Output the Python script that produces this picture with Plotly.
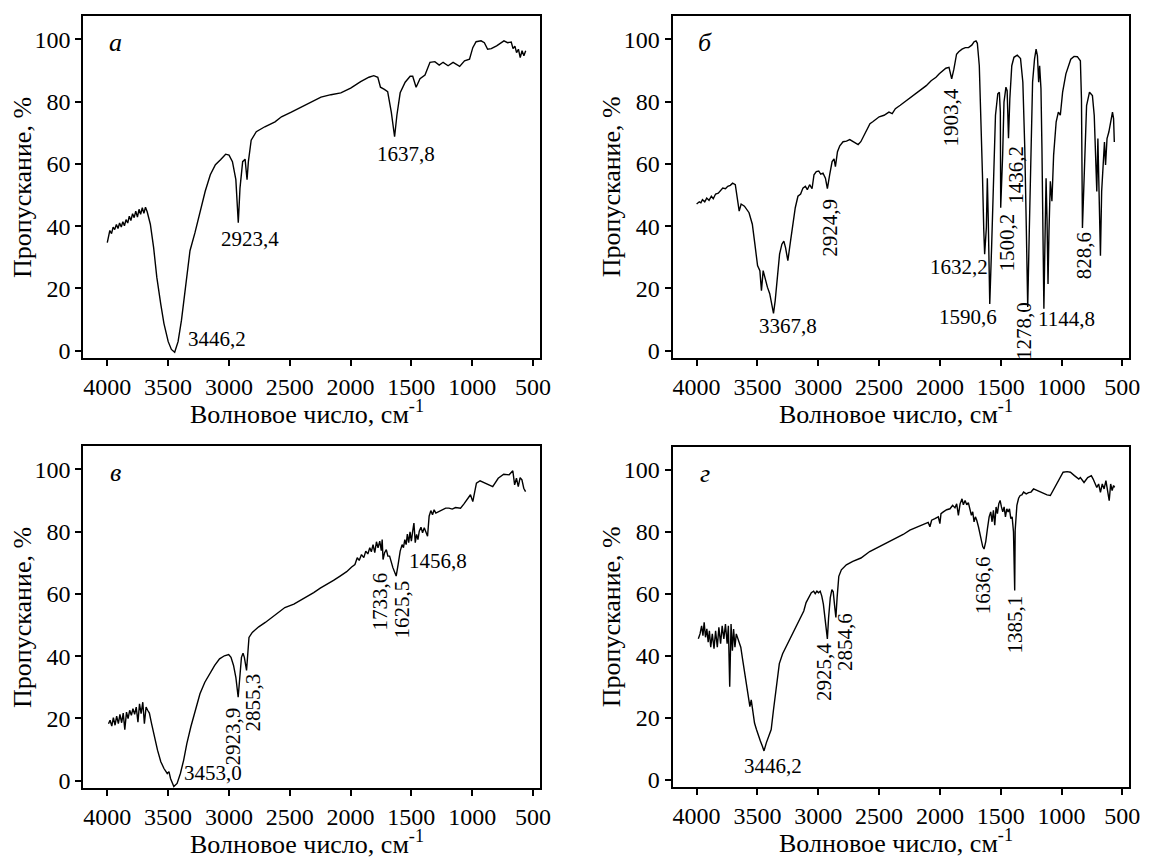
import plotly.graph_objects as go

# ---------------- data (wavenumber, transmittance %) ----------------
wn_a = [4000, 3992, 3979, 3965, 3952, 3939, 3925, 3912, 3899, 3885, 3872, 3859, 3846, 3832, 3819,
        3806, 3792, 3779, 3766, 3752, 3739, 3726, 3712, 3699, 3686, 3672, 3646, 3619, 3593, 3561,
        3534, 3499, 3473, 3446, 3418, 3390, 3354, 3320, 3279, 3237, 3195, 3153, 3111, 3069, 3027,
        2999, 2971, 2943, 2923, 2909, 2887, 2867, 2851, 2840, 2817, 2775, 2705, 2621, 2568, 2487,
        2405, 2324, 2243, 2161, 2080, 1999, 1917, 1849, 1809, 1776, 1754, 1722, 1695, 1665, 1638,
        1619, 1592, 1551, 1510, 1489, 1461, 1429, 1388, 1347, 1307, 1271, 1239, 1198, 1157, 1103,
        1063, 1022, 995, 968, 927, 900, 873, 843, 799, 739, 709, 679, 664, 649, 635, 620, 605, 590,
        575, 560]
tr_a = [34.7, 36.7, 38.6, 37.6, 39.7, 38.9, 40.5, 39.2, 41.0, 39.7, 41.4, 40.1, 42.1, 41.0, 43.2,
        41.8, 44.0, 42.7, 44.8, 42.9, 45.4, 43.8, 45.9, 44.1, 46.1, 44.6, 40.6, 33.1, 23.6, 15.1,
        8.7, 2.9, 0.4, -0.5, 2.9, 9.8, 20.4, 32.1, 37.9, 44.8, 51.2, 56.5, 59.7, 61.3, 63.1,
        62.8, 60.7, 54.9, 41.1, 52.2, 60.7, 61.5, 54.9, 60.7, 67.6, 70.3, 71.9, 73.5, 75.1, 76.6,
        78.2, 80.0, 81.4, 82.2, 82.8, 84.3, 86.4, 87.8, 88.3, 87.8, 84.6, 83.9, 83.2, 76.6, 68.7,
        75.6, 82.8, 86.2, 88.1, 88.1, 84.6, 87.3, 88.5, 92.6, 92.8, 91.7, 92.6, 91.5, 92.6, 91.3,
        93.1, 93.6, 97.3, 99.2, 99.5, 98.9, 96.8, 97.0, 97.9, 99.5, 98.9, 99.1, 97.0, 97.8, 95.7,
        96.8, 94.1, 96.3, 94.7, 96.3]

wn_b = [4000, 3978, 3965, 3952, 3933, 3917, 3898, 3879, 3863, 3844, 3822, 3803, 3785, 3763, 3744,
        3723, 3704, 3682, 3669, 3650, 3634, 3607, 3569, 3542, 3521, 3499, 3480, 3467, 3453, 3440,
        3418, 3399, 3381, 3368, 3354, 3338, 3318, 3299, 3283, 3269, 3250, 3228, 3208, 3189, 3167,
        3145, 3126, 3106, 3090, 3071, 3051, 3035, 3016, 2996, 2980, 2961, 2941, 2925, 2906, 2886,
        2870, 2859, 2842, 2823, 2796, 2768, 2741, 2713, 2672, 2650, 2630, 2603, 2575, 2552, 2499,
        2459, 2419, 2392, 2366, 2326, 2285, 2245, 2219, 2192, 2152, 2112, 2072, 2032, 2005, 1978,
        1951, 1925, 1903, 1885, 1863, 1845, 1818, 1791, 1765, 1738, 1719, 1703, 1692, 1676, 1663,
        1650, 1639, 1632, 1618, 1610, 1602, 1590, 1575, 1559, 1543, 1524, 1511, 1503, 1500, 1484,
        1473, 1457, 1447, 1436, 1425, 1409, 1391, 1364, 1337, 1318, 1302, 1289, 1278, 1265, 1251,
        1238, 1222, 1209, 1198, 1188, 1180, 1169, 1161, 1153, 1145, 1137, 1127, 1119, 1111, 1103,
        1092, 1079, 1065, 1044, 1026, 1010, 991, 964, 942, 924, 897, 870, 845, 836, 828, 809, 794,
        770, 746, 731, 719, 710, 701, 692, 680, 670, 659, 647, 638, 626, 611, 596, 581, 572, 566]
tr_b = [47.1, 47.8, 47.5, 48.5, 47.8, 49.0, 48.3, 49.6, 48.8, 50.3, 50.6, 51.4, 52.2, 52.0, 52.8,
        53.1, 53.8, 53.3, 50.1, 44.8, 47.1, 46.4, 44.3, 40.6, 34.2, 27.3, 25.7, 19.3, 25.7, 23.6,
        20.4, 18.3, 15.1, 12.0, 16.1, 23.6, 31.0, 34.2, 35.2, 33.1, 28.9, 35.2, 41.6, 45.9, 49.6,
        50.3, 52.2, 52.8, 51.7, 53.3, 52.0, 56.5, 57.5, 57.7, 56.7, 57.0, 55.4, 52.0, 56.5, 60.7,
        61.6, 59.1, 63.9, 65.8, 67.1, 67.3, 67.8, 67.1, 66.2, 67.1, 68.7, 70.8, 72.9, 73.5, 75.1,
        75.6, 76.6, 76.1, 77.7, 78.8, 80.0, 81.1, 82.0, 82.5, 83.9, 85.1, 86.7, 87.8, 88.9, 89.9,
        90.7, 91.0, 87.3, 90.4, 95.2, 96.0, 96.8, 97.3, 97.3, 98.1, 99.2, 99.5, 98.7, 91.5, 75.6,
        56.5, 38.4, 31.0, 39.5, 55.4, 41.6, 15.0, 33.1, 54.4, 75.6, 82.5, 83.0, 76.6, 45.9, 62.8,
        79.8, 84.6, 83.5, 68.2, 80.9, 91.5, 94.2, 94.9, 93.8, 86.2, 64.9, 38.4, 14.0, 38.4, 64.9,
        86.2, 93.6, 96.8, 94.7, 86.2, 91.5, 84.1, 65.0, 38.4, 13.5, 33.1, 55.4, 41.6, 21.4, 38.4,
        54.4, 48.0, 62.8, 73.5, 76.6, 75.6, 83.0, 88.9, 91.5, 93.6, 94.5, 94.4, 93.1, 80.9, 39.4,
        61.7, 78.7, 83.0, 81.9, 75.5, 59.6, 51.1, 68.1, 52.1, 30.5, 51.1, 60.6, 67.0, 59.6, 68.1,
        70.2, 73.4, 76.6, 74.5, 67.0]

wn_c = [3990, 3977, 3963, 3950, 3936, 3923, 3909, 3896, 3882, 3869, 3856, 3842, 3829, 3816, 3802,
        3789, 3775, 3762, 3748, 3735, 3722, 3708, 3695, 3681, 3668, 3654, 3636, 3614, 3587, 3560,
        3534, 3507, 3493, 3480, 3458, 3453, 3426, 3399, 3372, 3346, 3313, 3278, 3238, 3198, 3158,
        3117, 3077, 3037, 3002, 2983, 2962, 2943, 2924, 2910, 2897, 2884, 2873, 2855, 2846, 2835,
        2808, 2755, 2701, 2647, 2593, 2540, 2466, 2411, 2357, 2303, 2249, 2194, 2140, 2086, 2032,
        1991, 1964, 1945, 1929, 1910, 1891, 1875, 1858, 1842, 1829, 1815, 1801, 1787, 1774, 1760,
        1747, 1740, 1733, 1720, 1706, 1693, 1679, 1652, 1625, 1609, 1592, 1576, 1565, 1554, 1543,
        1533, 1522, 1511, 1500, 1489, 1479, 1468, 1457, 1446, 1435, 1421, 1408, 1394, 1381, 1367,
        1354, 1340, 1326, 1313, 1299, 1272, 1245, 1218, 1191, 1164, 1137, 1096, 1069, 1042, 1014,
        995, 965, 935, 875, 831, 786, 741, 696, 666, 651, 636, 621, 606, 591, 576, 561]
tr_c = [18.3, 19.4, 17.5, 20.2, 17.8, 20.7, 18.3, 21.3, 18.6, 21.7, 16.4, 22.0, 19.9, 22.6, 21.0,
        23.1, 21.3, 23.6, 18.8, 24.7, 21.5, 25.2, 18.3, 23.6, 22.6, 21.7, 18.3, 14.1, 9.8, 6.1,
        3.9, 2.3, 2.9, 0.7, -1.7, -1.9, -0.9, 2.3, 6.6, 11.9, 17.3, 22.6, 27.9, 31.6, 34.3,
        37.0, 39.1, 40.1, 40.5, 39.6, 37.0, 33.2, 26.8, 33.2, 39.6, 40.9, 39.6, 35.4, 39.6, 46.0,
        47.6, 49.4, 50.8, 52.4, 54.0, 55.6, 56.7, 57.9, 59.3, 60.4, 61.8, 63.0, 64.3, 65.7, 67.1,
        68.6, 69.4, 71.6, 70.7, 72.6, 71.6, 73.7, 72.8, 74.8, 73.5, 75.8, 73.2, 76.7, 74.8, 76.9,
        73.9, 77.4, 71.0, 73.2, 74.2, 72.1, 72.1, 68.4, 65.7, 69.4, 73.7, 75.8, 74.8, 77.4, 75.8,
        79.2, 76.4, 79.9, 76.9, 80.1, 82.7, 76.4, 79.1, 77.4, 80.1, 81.4, 79.6, 81.2, 79.9, 78.5,
        84.9, 86.7, 85.4, 87.0, 85.9, 86.5, 87.0, 87.5, 87.5, 87.2, 87.7, 87.5, 88.8, 90.2, 91.8,
        89.6, 95.5, 96.3, 95.2, 94.4, 97.1, 98.4, 98.2, 99.5, 95.0, 97.1, 94.4, 97.3, 96.6, 93.9,
        92.8]

wn_d = [3986, 3972, 3959, 3948, 3938, 3927, 3916, 3905, 3895, 3884, 3871, 3857, 3844, 3830, 3817,
        3803, 3790, 3776, 3763, 3749, 3739, 3728, 3717, 3706, 3696, 3685, 3674, 3664, 3653, 3637,
        3621, 3605, 3589, 3572, 3562, 3551, 3540, 3524, 3508, 3492, 3476, 3460, 3446, 3427, 3406,
        3387, 3368, 3347, 3320, 3293, 3266, 3226, 3186, 3146, 3119, 3100, 3079, 3057, 3038, 3025,
        3011, 2998, 2984, 2971, 2958, 2944, 2933, 2925, 2915, 2901, 2888, 2877, 2864, 2855, 2845,
        2831, 2810, 2769, 2716, 2649, 2577, 2522, 2467, 2412, 2357, 2302, 2247, 2192, 2137, 2096,
        2082, 2068, 2041, 2013, 2000, 1991, 1972, 1944, 1917, 1895, 1876, 1862, 1848, 1834, 1818,
        1807, 1793, 1779, 1766, 1752, 1741, 1730, 1719, 1708, 1697, 1683, 1664, 1648, 1637, 1623,
        1609, 1595, 1582, 1571, 1560, 1549, 1538, 1527, 1516, 1505, 1494, 1483, 1472, 1461, 1450,
        1439, 1428, 1417, 1406, 1395, 1385, 1381, 1367, 1353, 1340, 1326, 1312, 1290, 1271, 1251,
        1230, 1202, 1174, 1147, 1119, 1092, 1064, 1037, 1009, 987, 954, 927, 894, 858, 845, 815,
        785, 755, 740, 710, 695, 680, 665, 650, 635, 620, 608, 596, 584, 572, 563]
tr_d = [45.5, 47.1, 49.7, 46.5, 50.8, 46.0, 48.7, 44.4, 48.1, 42.8, 47.1, 42.3, 48.1, 42.8, 49.2,
        43.9, 49.7, 45.5, 50.3, 43.9, 49.7, 30.0, 50.3, 41.7, 48.7, 42.8, 47.1, 46.0, 44.9, 42.8,
        38.6, 34.3, 31.1, 26.8, 23.6, 25.8, 22.6, 18.3, 16.2, 14.1, 12.5, 10.9, 9.3, 11.9, 14.1,
        16.2, 22.6, 29.5, 37.5, 40.7, 42.8, 46.0, 49.4, 52.4, 54.5, 57.2, 58.6, 60.4, 60.9, 60.1,
        60.9, 60.4, 60.9, 59.3, 56.7, 52.4, 48.1, 45.5, 52.4, 58.8, 61.4, 60.7, 55.6, 52.4, 58.8,
        65.7, 67.8, 69.4, 70.5, 71.6, 73.7, 74.8, 75.8, 76.9, 78.2, 79.2, 80.6, 81.5, 82.4, 83.1,
        81.7, 83.8, 84.3, 84.9, 82.7, 85.9, 86.5, 87.2, 87.5, 88.6, 87.8, 89.1, 85.4, 89.1, 90.7,
        88.8, 90.2, 88.8, 89.5, 87.0, 85.4, 86.5, 83.3, 84.9, 83.8, 81.7, 78.0, 75.3, 74.5, 76.9,
        81.1, 84.9, 86.5, 83.3, 87.0, 82.2, 88.1, 85.9, 89.1, 90.2, 88.1, 86.5, 88.1, 84.9, 87.5,
        86.5, 87.5, 84.3, 84.9, 80.1, 61.1, 80.6, 88.6, 90.9, 91.8, 92.0, 92.9, 92.3, 92.7, 92.9,
        93.9, 93.4, 92.9, 92.3, 92.0, 91.8, 93.9, 95.5, 97.7, 99.3, 99.5, 99.3, 98.2, 97.1, 97.6,
        96.0, 97.6, 98.2, 97.1, 94.4, 95.5, 92.8, 95.5, 93.9, 96.6, 92.8, 90.1, 95.5, 93.4, 95.0,
        94.4]

panel_letters = ["а", "б", "в", "г"]
x_ticks = [4000, 3500, 3000, 2500, 2000, 1500, 1000, 500]
y_ticks = [0, 20, 40, 60, 80, 100]

# peak labels: (text, wavenumber, transmittance, vertical?)
labels_a = [("3446,2", 3097, 3.6, False), ("2923,4", 2824, 36.0, False), ("1637,8", 1544, 63.3, False)]
labels_b = [("3367,8", 3250, 8.0, False), ("2924,9", 2905, 39.4, True), ("1903,4", 1905, 75.0, True),
            ("1632,2", 1845, 26.8, False), ("1590,6", 1772, 10.8, False), ("1500,2", 1452, 34.6, True),
            ("1436,2", 1375, 56.5, True), ("1278,0", 1305, 6.5, True), ("1144,8", 955, 10.3, False),
            ("828,6", 815, 30.3, True)]
labels_c = [("3453,0", 3133, 2.5, False), ("2923,9", 2962, 14.0, True), ("2855,3", 2804, 25.0, True),
            ("1733,6", 1758, 57.5, True), ("1625,5", 1578, 54.9, True), ("1456,8", 1279, 70.4, False)]
labels_d = [("3446,2", 3370, 4.4, False), ("2925,4", 2959, 34.9, True), ("2854,6", 2785, 44.6, True),
            ("1636,6", 1646, 62.8, True), ("1385,1", 1385, 50.0, True)]

# ---------------- figure ----------------
W, H = 1156, 859
FONT = "Liberation Serif"

# plot-area pixel boxes (left, right, top, bottom)
boxes = [(84, 545, 16, 361), (679, 1140, 16, 361), (84, 545, 449, 794), (679, 1140, 450, 793)]
series = [(wn_a, tr_a, labels_a), (wn_b, tr_b, labels_b), (wn_c, tr_c, labels_c), (wn_d, tr_d, labels_d)]

fig = go.Figure()
layout = dict(width=W, height=H, margin=dict(l=0, r=0, t=0, b=0),
              paper_bgcolor="white", plot_bgcolor="white", showlegend=False,
              font=dict(family=FONT, color="black"))
annotations = []

for i, ((wn, tr, labs), (l, r, t, b)) in enumerate(zip(series, boxes)):
    sfx = "" if i == 0 else str(i + 1)
    fig.add_trace(go.Scatter(x=wn, y=tr, mode="lines", line=dict(color="black", width=1.4),
                             xaxis="x" + sfx, yaxis="y" + sfx, hoverinfo="skip"))
    axis_common = dict(ticks="outside", ticklen=6, tickwidth=1.5, tickcolor="black",
                       showline=True, linecolor="black", linewidth=2, mirror=True,
                       showgrid=False, zeroline=False,
                       tickfont=dict(family=FONT, size=24, color="black"))
    layout["xaxis" + sfx] = dict(domain=[l / W, r / W], anchor="y" + sfx, range=[4198, 444],
                                 tickvals=x_ticks, **axis_common)
    layout["yaxis" + sfx] = dict(domain=[1 - b / H, 1 - t / H], anchor="x" + sfx, range=[-2.5, 107.5],
                                 tickvals=y_ticks, **axis_common)
    # panel letter
    annotations.append(dict(text="<i>" + panel_letters[i] + "</i>", x=3930, y=99, xref="x" + sfx,
                            yref="y" + sfx, showarrow=False, xanchor="center", yanchor="middle",
                            font=dict(family=FONT, size=26)))
    # peak labels
    for txt, xv, yv, vert in labs:
        annotations.append(dict(text=txt, x=xv, y=yv, xref="x" + sfx, yref="y" + sfx, showarrow=False,
                                xanchor="center", yanchor="middle",
                                textangle=-90 if vert else 0, font=dict(family=FONT, size=21)))
    # axis titles
    annotations.append(dict(text="Волновое число, см<sup>-1</sup>", x=(l + r) / 2 / W - 0.004,
                            y=1 - (b + 54) / H, xref="paper", yref="paper", showarrow=False,
                            xanchor="center", yanchor="middle", font=dict(family=FONT, size=26)))
    annotations.append(dict(text="Пропускание, %", x=(l - 62) / W, y=1 - (t + b) / 2 / H,
                            xref="paper", yref="paper", showarrow=False, textangle=-90,
                            xanchor="center", yanchor="middle", font=dict(family=FONT, size=26)))

layout["annotations"] = annotations
fig.update_layout(**layout)
fig.write_html("out.html", config={"displayModeBar": False},
               post_script="document.body.style.margin='0px';")
